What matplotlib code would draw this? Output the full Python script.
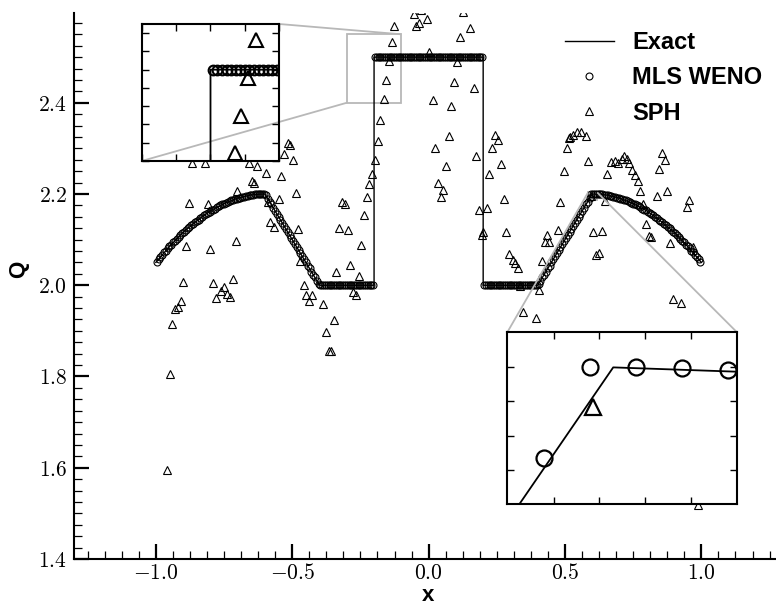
import numpy as np
import matplotlib.pyplot as plt
from matplotlib.ticker import MultipleLocator, FuncFormatter
from mpl_toolkits.axes_grid1.inset_locator import mark_inset

plt.rcParams['mathtext.fontset'] = 'cm'
plt.rcParams['font.family'] = ['Liberation Sans', 'DejaVu Sans']

# exact profile (knots of the piecewise solution)
exact_x = [-1.0, -0.95, -0.9, -0.85, -0.8, -0.75, -0.7, -0.65, -0.625, -0.6,
           -0.4, -0.2, -0.2, 0.2, 0.2, 0.4, 0.6, 0.625, 0.65, 0.7, 0.75,
           0.8, 0.85, 0.9, 0.95, 1.0]
exact_q = [2.05, 2.085, 2.116, 2.141, 2.163, 2.179, 2.191, 2.198, 2.1994, 2.2,
           2.0, 2.0, 2.5, 2.5, 2.0, 2.0, 2.2, 2.1994, 2.198, 2.191, 2.179,
           2.163, 2.141, 2.116, 2.085, 2.05]

# MLS WENO particles, 300 cells on [-1, 1]
n_cells = 300
weno_x = np.linspace(-1 + 1.0 / n_cells, 1 - 1.0 / n_cells, n_cells)
weno_q = (
    # left bump
    [2.052, 2.057, 2.062, 2.067, 2.072, 2.076, 2.081, 2.085, 2.089, 2.094,
     2.098, 2.102, 2.106, 2.110, 2.114, 2.117, 2.121, 2.125, 2.128, 2.132,
     2.135, 2.138, 2.141, 2.144, 2.147, 2.150, 2.153, 2.156, 2.159, 2.161,
     2.164, 2.166, 2.168, 2.171, 2.173, 2.175, 2.177, 2.179, 2.181, 2.182,
     2.184, 2.186, 2.187, 2.189, 2.190, 2.191, 2.192, 2.193, 2.194, 2.195,
     2.196, 2.197, 2.198, 2.198, 2.199, 2.1992, 2.1995, 2.1997, 2.1999, 2.2000]
    # left ramp
    + [2.197, 2.190, 2.183, 2.177, 2.170, 2.163, 2.157, 2.150, 2.143, 2.137,
       2.130, 2.123, 2.117, 2.110, 2.103, 2.097, 2.090, 2.083, 2.077, 2.070,
       2.063, 2.057, 2.050, 2.043, 2.037, 2.030, 2.023, 2.017, 2.010, 2.003]
    + [2.0] * 30
    + [2.5] * 60
    + [2.0] * 30
    # right ramp
    + [2.003, 2.010, 2.017, 2.023, 2.030, 2.037, 2.043, 2.050, 2.057, 2.063,
       2.070, 2.077, 2.083, 2.090, 2.097, 2.103, 2.110, 2.117, 2.123, 2.130,
       2.137, 2.143, 2.150, 2.157, 2.163, 2.170, 2.177, 2.183, 2.191, 2.2000]
    # right bump
    + [2.2000, 2.1999, 2.1997, 2.1995, 2.1992, 2.199, 2.198, 2.198, 2.197, 2.196,
       2.195, 2.194, 2.193, 2.192, 2.191, 2.190, 2.189, 2.187, 2.186, 2.184,
       2.182, 2.181, 2.179, 2.177, 2.175, 2.173, 2.171, 2.168, 2.166, 2.164,
       2.161, 2.159, 2.156, 2.153, 2.150, 2.147, 2.144, 2.141, 2.138, 2.135,
       2.132, 2.128, 2.125, 2.121, 2.117, 2.114, 2.110, 2.106, 2.102, 2.098,
       2.094, 2.089, 2.085, 2.081, 2.076, 2.072, 2.067, 2.062, 2.057, 2.052]
)

# SPH particles
sph_x = [-0.958, -0.949, -0.940, -0.930, -0.918, -0.909, -0.901, -0.889, -0.879, -0.869,
         -0.820, -0.810, -0.800, -0.790, -0.778, -0.760, -0.751, -0.738, -0.729, -0.718,
         -0.708, -0.702, -0.659, -0.647, -0.641, -0.629, -0.598, -0.588, -0.580, -0.568,
         -0.549, -0.541, -0.529, -0.515, -0.507, -0.498, -0.488, -0.478, -0.470, -0.458,
         -0.448, -0.437, -0.427, -0.387, -0.376, -0.366, -0.358, -0.348, -0.338, -0.327,
         -0.317, -0.308, -0.297, -0.287, -0.277, -0.265, -0.256, -0.247, -0.238, -0.226,
         -0.217, -0.206, -0.195, -0.187, -0.177, -0.165, -0.155, -0.145, -0.134, -0.126,
         -0.055, -0.046, -0.037, -0.027, -0.006, 0.003, 0.015, 0.025, 0.034, 0.045,
         0.053, 0.064, 0.076, 0.083, 0.094, 0.104, 0.114, 0.125, 0.153, 0.165,
         0.175, 0.186, 0.196, 0.199, 0.214, 0.223, 0.234, 0.244, 0.254, 0.265,
         0.275, 0.285, 0.293, 0.308, 0.318, 0.326, 0.336, 0.346, 0.354, 0.394,
         0.403, 0.415, 0.425, 0.434, 0.443, 0.476, 0.482, 0.495, 0.506, 0.513,
         0.519, 0.531, 0.544, 0.559, 0.576, 0.585, 0.597, 0.604, 0.614, 0.625,
         0.637, 0.647, 0.655, 0.669, 0.684, 0.696, 0.708, 0.718, 0.727, 0.733,
         0.745, 0.755, 0.766, 0.775, 0.785, 0.796, 0.808, 0.816, 0.837, 0.846,
         0.855, 0.867, 0.875, 0.885, 0.895, 0.910, 0.926, 0.947, 0.956, 0.968,
         0.987]
sph_q = [1.596, 1.805, 1.914, 1.949, 1.953, 1.965, 2.007, 2.086, 2.181, 2.269,
         2.269, 2.179, 2.079, 2.006, 1.973, 1.987, 1.997, 1.981, 1.975, 2.013,
         2.097, 2.207, 2.269, 2.228, 2.225, 2.262, 2.247, 2.183, 2.138, 2.128,
         2.190, 2.240, 2.287, 2.311, 2.307, 2.274, 2.202, 2.124, 2.053, 2.000,
         1.978, 1.965, 1.978, 1.959, 1.898, 1.856, 1.856, 1.924, 2.029, 2.126,
         2.183, 2.178, 2.121, 2.044, 1.986, 1.978, 2.021, 2.089, 2.154, 2.194,
         2.221, 2.243, 2.274, 2.316, 2.362, 2.409, 2.449, 2.491, 2.533, 2.568,
         2.595, 2.568, 2.575, 2.603, 2.584, 2.511, 2.407, 2.300, 2.224, 2.194,
         2.208, 2.261, 2.327, 2.393, 2.446, 2.489, 2.544, 2.599, 2.563, 2.432,
         2.283, 2.166, 2.110, 2.117, 2.170, 2.243, 2.300, 2.329, 2.319, 2.265,
         2.189, 2.117, 2.068, 2.055, 2.049, 2.037, 1.998, 1.942, 1.875, 1.929,
         1.989, 2.053, 2.095, 2.110, 2.095, 2.121, 2.183, 2.251, 2.300, 2.322,
         2.325, 2.329, 2.336, 2.336, 2.327, 2.272, 2.196, 2.117, 2.066, 2.071,
         2.119, 2.184, 2.243, 2.270, 2.272, 2.267, 2.276, 2.283, 2.276, 2.267,
         2.252, 2.241, 2.228, 2.207, 2.179, 2.134, 2.108, 2.106, 2.196, 2.254,
         2.289, 2.274, 2.207, 2.092, 1.969, 1.875, 1.962, 2.172, 2.186, 2.084,
         1.518]


def draw_series(a, ms_o, ms_t, mew, lw):
    a.plot(weno_x, weno_q, 'o', ms=ms_o, mfc='none', mec='black', mew=mew,
           label='MLS WENO', zorder=2)
    a.plot(sph_x, sph_q, '^', ms=ms_t, mfc='none', mec='black', mew=mew,
           label='SPH', zorder=3)
    a.plot(exact_x, exact_q, '-', color='black', lw=lw, label='Exact', zorder=4)


fig = plt.figure(figsize=(7.76, 6.06), dpi=100)
ax = fig.add_axes([0.0954, 0.0776, 0.9046, 0.9004])
draw_series(ax, 5, 6.3, 0.8, 1.0)

ax.set_xlim(-1.3, 1.2736)
ax.set_ylim(1.4, 2.596)
for s in ['top', 'right']:
    ax.spines[s].set_visible(False)
for s in ['left', 'bottom']:
    ax.spines[s].set_linewidth(1.5)

ax.xaxis.set_major_locator(MultipleLocator(0.5))
ax.xaxis.set_minor_locator(MultipleLocator(0.0625))
ax.yaxis.set_major_locator(MultipleLocator(0.2))
ax.yaxis.set_minor_locator(MultipleLocator(0.025))
fmt = FuncFormatter(lambda v, p: r'$%.1f$' % v)
ax.xaxis.set_major_formatter(fmt)
ax.yaxis.set_major_formatter(fmt)
ax.tick_params(which='major', direction='in', length=11, width=1.6,
               labelsize=15.5, pad=5, top=False, right=False)
ax.tick_params(axis='x', which='major', pad=3)
ax.tick_params(which='minor', direction='in', length=5.5, width=0.9,
               top=False, right=False)

ax.set_xlabel('x', fontsize=16, fontweight='bold')
ax.set_ylabel('Q', fontsize=16, fontweight='bold')
ax.xaxis.set_label_coords(0.504, -0.047)
ax.yaxis.set_label_coords(-0.064, 0.53)

handles, labels = ax.get_legend_handles_labels()
order = [2, 0, 1]
ax.legend([handles[i] for i in order], [labels[i] for i in order],
          loc='upper right', bbox_to_anchor=(762 / 776, 1 - 31 / 606),
          bbox_transform=fig.transFigure, frameon=False, borderpad=0,
          borderaxespad=0, handlelength=2.1, handletextpad=0.75,
          labelspacing=0.52, prop={'weight': 'bold', 'size': 17})

# zoom on the left edge of the plateau
axin1 = fig.add_axes([141.7 / 776, 1 - 161 / 606, 137.6 / 776, 137 / 606])
draw_series(axin1, 7, 10.5, 1.5, 1.3)
axin1.set_xlim(-0.3, -0.1)
axin1.set_ylim(2.4, 2.55)
axin1.xaxis.set_major_locator(MultipleLocator(0.05))
axin1.yaxis.set_major_locator(MultipleLocator(0.02))

# zoom on the right corner at x = 0.6
axin2 = fig.add_axes([507.3 / 776, 1 - 503.7 / 606, 229.7 / 776, 171.4 / 606])
draw_series(axin2, 11.5, 12, 1.6, 1.3)
axin2.set_xlim(0.5846, 0.618)
axin2.set_ylim(2.1864, 2.2035)
axin2.set_xticks([0.5914, 0.5980, 0.6046, 0.6113])
axin2.set_yticks([2.1898, 2.1932, 2.1966, 2.2000])

for a in (axin1, axin2):
    a.tick_params(which='both', direction='in', length=5, width=1.0,
                  top=True, right=True, labelbottom=False, labelleft=False)
    for s in a.spines.values():
        s.set_linewidth(1.5)

mark_inset(ax, axin1, loc1=1, loc2=3, fc='none', ec='0.72', lw=1.3)
mark_inset(ax, axin2, loc1=2, loc2=1, fc='none', ec='0.72', lw=1.3)

fig.savefig('out.png', dpi=100)
